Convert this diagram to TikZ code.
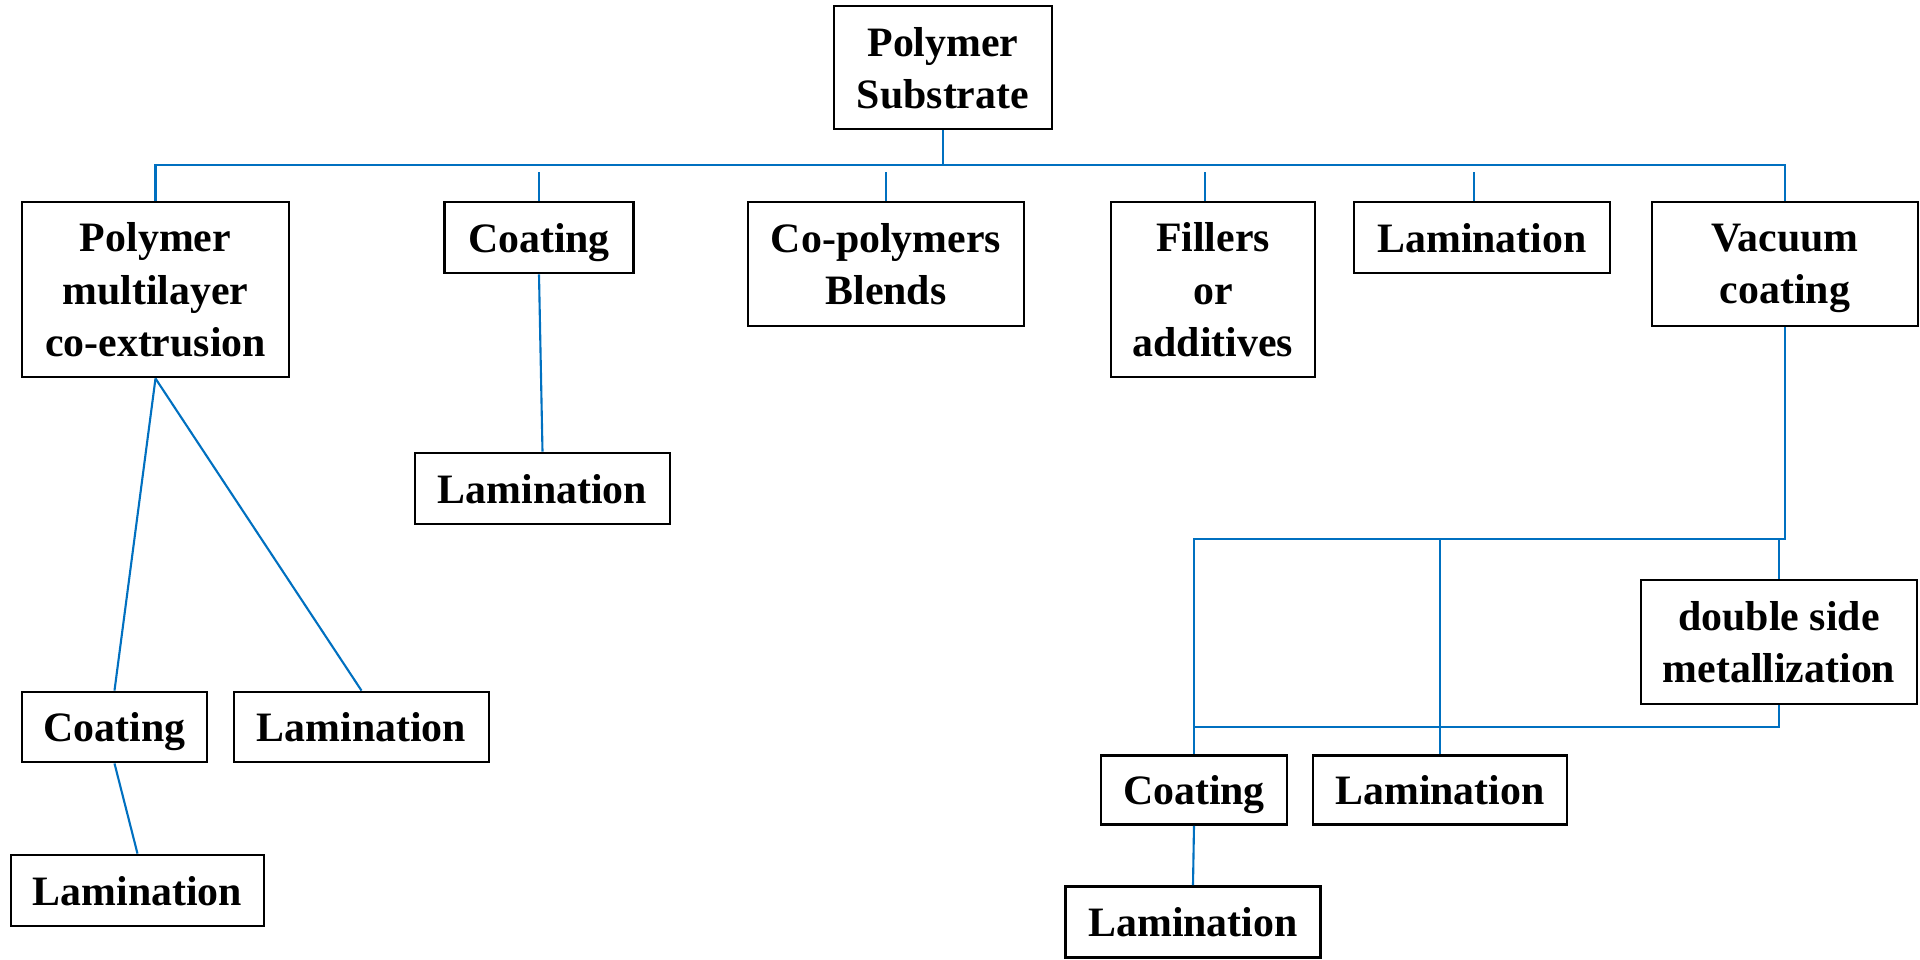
\documentclass[tikz,border=0pt]{standalone}
\usepackage{fontspec}
\setmainfont{Liberation Serif}
\definecolor{lienbleu}{RGB}{0,112,192}
\begin{document}
\begin{tikzpicture}[x=0.01cm,y=-0.01cm]
\tikzset{boite/.style={draw, line width=0.8pt, align=center, inner sep=0pt, text depth=-1.4pt, font=\bfseries\fontsize{11.9}{14.8}\selectfont},
lien/.style={draw=lienbleu, line width=0.6pt}}
\useasboundingbox (0,0) rectangle (1920,959);
\node[boite, minimum width=2.18cm, minimum height=1.23cm] (S) at (943,67.5) {Polymer\\Substrate};
\node[boite, minimum width=2.67cm, minimum height=1.75cm] (P) at (155.5,289.5) {Polymer\\multilayer\\co-extrusion};
\node[boite, minimum width=1.89cm, minimum height=0.71cm] (C1) at (539,237.5) {Coating};
\node[boite, minimum width=2.76cm, minimum height=1.24cm] (B) at (886,264) {Co-polymers\\Blends};
\node[boite, minimum width=2.04cm, minimum height=1.75cm] (F) at (1213,289.5) {Fillers\\or\\additives};
\node[boite, minimum width=2.56cm, minimum height=0.71cm] (L1) at (1482,237.5) {Lamination};
\node[boite, minimum width=2.66cm, minimum height=1.24cm] (V) at (1785,264) {Vacuum\\coating};
\node[boite, minimum width=2.55cm, minimum height=0.71cm] (L2) at (542.5,488.5) {Lamination};
\node[boite, minimum width=1.85cm, minimum height=0.70cm] (C2) at (114.5,727) {Coating};
\node[boite, minimum width=2.55cm, minimum height=0.70cm] (L3) at (361.5,727) {Lamination};
\node[boite, minimum width=2.53cm, minimum height=0.71cm] (L4) at (137.5,890.5) {Lamination};
\node[boite, minimum width=2.76cm, minimum height=1.24cm] (D) at (1779,642) {double side\\metallization};
\node[boite, minimum width=1.86cm, minimum height=0.69cm] (C3) at (1194,790) {Coating};
\node[boite, minimum width=2.54cm, minimum height=0.69cm] (L5) at (1440,790) {Lamination};
\node[boite, minimum width=2.55cm, minimum height=0.71cm] (L6) at (1193,922) {Lamination};
\coordinate (J0) at (943,165);
\coordinate (T) at (0,172);
\coordinate (J1) at (1785,539);
\coordinate (J2) at (1779,727);
\draw[lien] (S.south) -- (J0);
\draw[lien] (P.north) -- (P.north |- J0) -- (V.north |- J0) -- (V.north);
\draw[lien] (C1.north) -- (C1.north |- T);
\draw[lien] (B.north) -- (B.north |- T);
\draw[lien] ([xshift=-0.08cm]F.north) -- ([xshift=-0.08cm]F.north |- T);
\draw[lien] ([xshift=-0.08cm]L1.north) -- ([xshift=-0.08cm]L1.north |- T);
\draw[lien] (C1.south) -- (L2.north);
\draw[lien] (P.south) -- (C2.north);
\draw[lien] (P.south) -- (L3.north);
\draw[lien] (C2.south) -- (L4.north);
\draw[lien] (V.south) -- (J1) -- (C3.north |- J1) -- (C3.north);
\draw[lien] (L5.north) -- (L5.north |- J1);
\draw[lien] (D.north) -- (D.north |- J1);
\draw[lien] (D.south) -- (J2) -- (C3.north |- J2);
\draw[lien] (C3.south) -- (L6.north);
\end{tikzpicture}
\end{document}
